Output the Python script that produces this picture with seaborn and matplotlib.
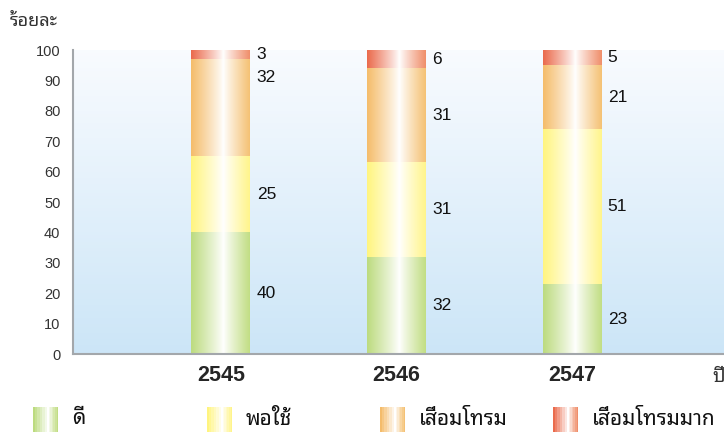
import numpy as np
import pandas as pd
import matplotlib
matplotlib.use("Agg")
import matplotlib.pyplot as plt
import seaborn as sns

sns.set_style("white")
plt.rcParams["font.family"] = ["Liberation Sans", "Noto Sans Thai Looped"]

# ---------------------------------------------------------------------------
# data
# ---------------------------------------------------------------------------
years = ["2545", "2546", "2547"]
good = [40, 32, 23]
fair = [25, 31, 51]
poor = [32, 31, 21]
very_poor = [3, 6, 5]

layer_names = ["ดี", "พอใช้", "เสื่อมโทรม", "เสื่อมโทรมมาก"]
layers = [good, fair, poor, very_poor]

# edge colours of the horizontal gradients (left edge, right edge)
edge_cols = [
    ((0.74, 0.86, 0.50), (0.76, 0.87, 0.52)),
    ((1.00, 0.96, 0.50), (1.00, 0.96, 0.55)),
    ((0.96, 0.74, 0.42), (0.96, 0.76, 0.46)),
    ((0.92, 0.42, 0.30), (0.94, 0.56, 0.42)),
]
# move the odd label of 2545 / เสื่อมโทรม up, as in the source
label_nudge = {(2, 0): 10}


def bar_gradient(left, right, n=80, peak=0.55, steps=None):
    u = np.linspace(0, 1, n)
    w = np.where(u < peak, (peak - u) / peak, (u - peak) / (1 - peak)) ** 0.9
    if steps:
        w = np.round(w * steps) / steps
    left = np.array(left)
    right = np.array(right)
    edge = np.where((u < peak)[:, None], left[None, :], right[None, :])
    rgb = (1 - w[:, None]) * 1.0 + w[:, None] * edge
    return rgb[None, :, :]


cum = np.cumsum(np.array(layers), axis=0)

fig = plt.figure(figsize=(7.24, 4.33), dpi=100)
ax = fig.add_axes([73 / 724, 1 - 354 / 433, 651 / 724, 304 / 433])

# background: light blue at the bottom fading to white at the top
xlim = (-0.843, 2.866)
bg = np.linspace(0, 1, 100)[:, None]
top_c = np.array([0.975, 0.985, 0.998])
bot_c = np.array([0.80, 0.90, 0.97])
bg_img = (bg * top_c + (1 - bg) * bot_c)[:, None, :].repeat(2, axis=1)
ax.imshow(bg_img, extent=(xlim[0], xlim[1], 0, 100), origin="lower",
          aspect="auto", zorder=0)

# bars: draw every cumulative layer with seaborn, then paint gradients on them
for li in range(len(layers) - 1, -1, -1):
    df = pd.DataFrame({"year": years, "top": cum[li]})
    n_before = len(ax.patches)
    sns.barplot(data=df, x="year", y="top", order=years, width=0.336,
                color="white", ax=ax, zorder=2)
    for bi, p in enumerate(ax.patches[n_before:]):
        p.set_facecolor("none")
        p.set_edgecolor("none")
        x0, x1 = p.get_x(), p.get_x() + p.get_width()
        y1 = p.get_height()
        y0 = cum[li - 1][bi] if li > 0 else 0
        ax.imshow(bar_gradient(*edge_cols[li]), extent=(x0, x1, y0, y1),
                  aspect="auto", zorder=3 + li, interpolation="bilinear")
        ymid = (y0 + y1) / 2 + label_nudge.get((li, bi), 0)
        ax.annotate(str(layers[li][bi]), (x1, ymid), xytext=(4.5, 0),
                    textcoords="offset points", ha="left", va="center",
                    fontsize=12.5, color="#111111")

ax.set_xlim(*xlim)
ax.set_ylim(0, 100)
ax.set_xlabel("")
ax.set_ylabel("")
ax.set_yticks(range(0, 101, 10))
ax.tick_params(axis="y", direction="in", length=10, width=1, color="#9a9a9a",
               labelsize=10.5, labelcolor="#333333", pad=9)
ax.tick_params(axis="x", length=0, labelsize=15.5, pad=8)
for lab in ax.get_xticklabels():
    lab.set_fontweight("bold")
for side in ["top", "right"]:
    ax.spines[side].set_visible(False)
for side in ["left", "bottom"]:
    ax.spines[side].set_color("#a3a7ab")
    ax.spines[side].set_linewidth(1.5)
    ax.spines[side].set_zorder(10)

fig.text(10 / 724, 1 - 22 / 433, "ร้อยละ", fontsize=13, color="#333333",
         va="center", ha="left")
fig.text(712 / 724, 1 - 377 / 433, "ปี", fontsize=14, color="#333333",
         va="center", ha="left")

# legend
leg_x = [33, 207, 380, 553]
for li, name in enumerate(layer_names):
    lax = fig.add_axes([leg_x[li] / 724, 1 / 433, 25 / 724, 25 / 433])
    lax.imshow(bar_gradient(*edge_cols[li], n=25, peak=0.6, steps=6),
               aspect="auto", interpolation="nearest")
    lax.axis("off")
    fig.text((leg_x[li] + 39) / 724, 1 - 419 / 433, name, fontsize=15,
             fontweight="bold", color="#111111", va="center", ha="left")

fig.savefig("out.png", dpi=100)
